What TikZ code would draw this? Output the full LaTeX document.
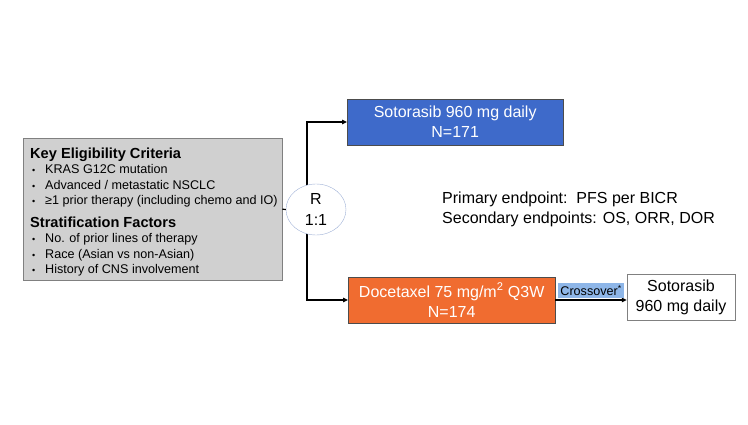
\documentclass[tikz,border=0pt]{standalone}
\usepackage{fontspec}
\setmainfont{Liberation Sans}
\usetikzlibrary{arrows.meta,positioning,shapes.geometric}
\definecolor{critgray}{RGB}{208,208,208}
\definecolor{armblue}{RGB}{62,106,202}
\definecolor{armorange}{RGB}{240,108,48}
\definecolor{crossblue}{RGB}{142,182,232}
\newcommand{\bul}{\makebox[15pt][l]{\hspace{2pt}{\fontsize{9}{9}\selectfont\textbullet}}}

\begin{document}
\begin{tikzpicture}[x=1pt, y=-1pt,
        arm/.style={draw=gray!60!black, minimum height=46pt, text=white, align=center, inner sep=0pt, font=\fontsize{16}{20}\selectfont},
        crittext/.style={align=left, inner sep=0pt, font=\fontsize{12.6}{15.5}\selectfont},
        arrow/.style={line width=1.2pt, -{Triangle[length=5pt,width=4.5pt]}}]
        \useasboundingbox (0,0) rectangle (748,425);
        % eligibility box
        \node[draw=gray, fill=critgray, minimum width=259pt, minimum height=142pt, anchor=north west] (crit) at (23,138) {};
        \node[crittext, anchor=north west] (elig) at (30,147.5) {{\fontsize{14.6}{15}\selectfont\bfseries Key Eligibility Criteria}\\
                \bul KRAS G12C mutation\\
                \bul Advanced / metastatic NSCLC\\
                \bul ≥1 prior therapy (including chemo and IO)};
        \node[crittext, anchor=north west] (strat) at (30,216.5) {{\fontsize{14.6}{16.5}\selectfont\bfseries Stratification Factors}\\
                \bul No. of prior lines of therapy\\
                \bul Race (Asian vs non-Asian)\\
                \bul History of CNS involvement};
        % arms
        \node[arm, fill=armblue, minimum width=216pt, anchor=west] (soto) at (347,122) {Sotorasib 960 mg daily\\N=171};
        \node[arm, fill=armorange, minimum width=207pt, anchor=west] (doce) at (348,300) {Docetaxel 75 mg/m\textsuperscript{2} Q3W\\N=174};
        \node[draw=gray, minimum width=108pt, minimum height=46pt, align=center, inner sep=0pt, font=\fontsize{16}{20}\selectfont] (cross) at (681,297) {Sotorasib\\960 mg daily};
        \coordinate (split) at (307,209.5);
        \draw[arrow] (split) |- (soto.west);
        \draw[arrow] (split) |- (doce.west);
        \draw[arrow] (doce.east) -- (doce.east -| cross.west)
                node[midway, above=1pt, fill=crossblue, inner xsep=2pt, inner ysep=2.5pt, font=\fontsize{12.6}{14}\selectfont] (xlabel) {Crossover\textsuperscript{*}};
        % randomisation
        \node[ellipse, draw={rgb,255:red,160;green,178;blue,215}, fill=white, minimum width=60pt, minimum height=51pt, inner sep=0pt, align=center, font=\fontsize{16}{21}\selectfont] (rand) at (316,209.5) {R\\1:1};
        \draw[line width=1.2pt] (crit.east) -- (rand.west);
        % endpoints
        \node[anchor=west, align=left, inner sep=0pt, font=\fontsize{16}{20}\selectfont] (endpts) at (442,209) {Primary endpoint:\ \ PFS per BICR\\Secondary endpoints: OS, ORR, DOR};
\end{tikzpicture}
\end{document}
